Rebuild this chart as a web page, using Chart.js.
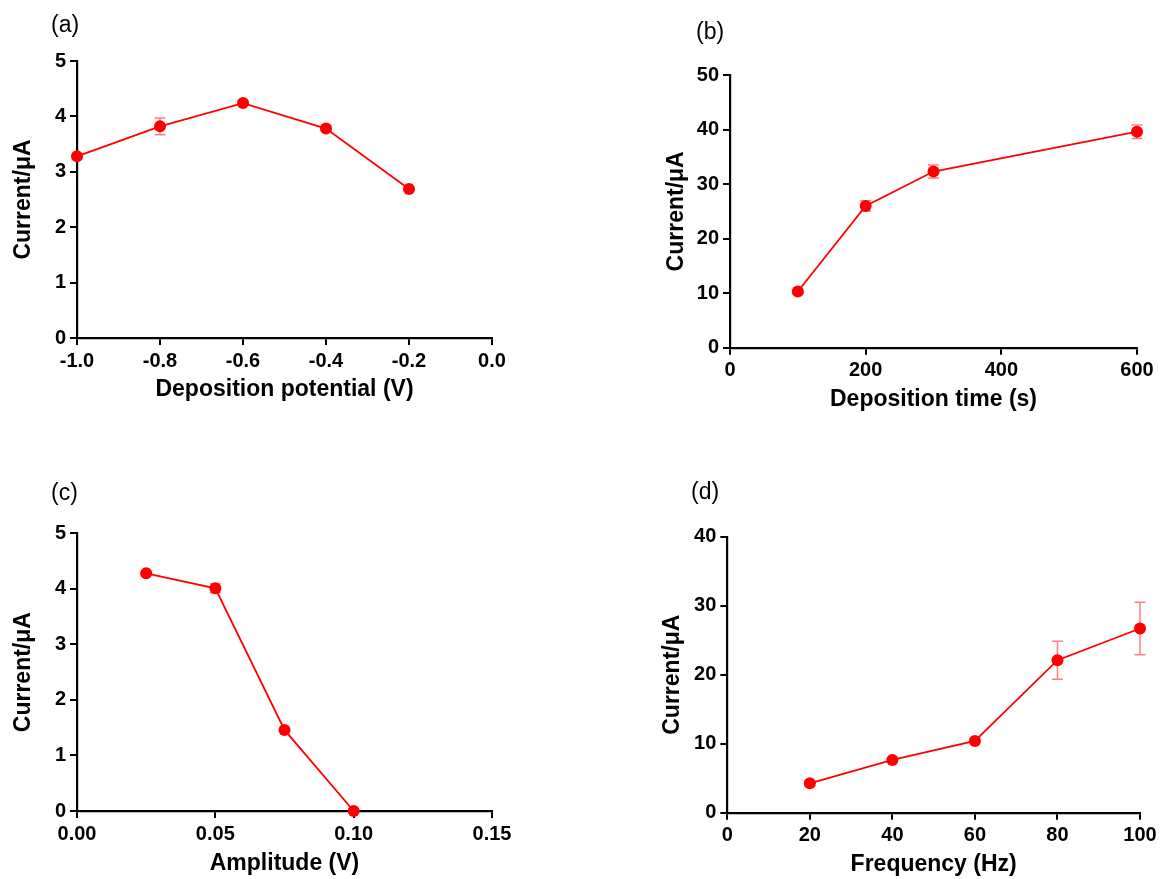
<!DOCTYPE html>
<html>
<head>
<meta charset="utf-8">
<script src="https://cdn.jsdelivr.net/npm/chart.js@4.4.0/dist/chart.umd.min.js"></script>
<style>
  html, body { margin: 0; padding: 0; background: #fff; }
  #page { position: relative; width: 1163px; height: 879px; overflow: hidden; }
  canvas { position: absolute; }
  .tag { position: absolute; font: 23px "Liberation Sans", Arial, sans-serif; line-height: 23px; color: #000; }
</style>
</head>
<body>
<div id="page">
  <canvas id="chartA"></canvas>
  <canvas id="chartB"></canvas>
  <canvas id="chartC"></canvas>
  <canvas id="chartD"></canvas>
  <div class="tag" style="left:51px; top:13px;">(a)</div>
  <div class="tag" style="left:696px; top:20px;">(b)</div>
  <div class="tag" style="left:51px; top:481px;">(c)</div>
  <div class="tag" style="left:691px; top:480px;">(d)</div>
</div>
<script>
// (a) deposition potential
const potentialV = [-1.0, -0.8, -0.6, -0.4, -0.2];
const potentialCurrent = [3.28, 3.82, 4.24, 3.78, 2.69];
const potentialErr = [0.03, 0.15, 0.04, 0.04, 0.03];
const potentialXTicks = [-1.0, -0.8, -0.6, -0.4, -0.2, 0.0];
const potentialXLabels = ['-1.0', '-0.8', '-0.6', '-0.4', '-0.2', '0.0'];
const potentialYTicks = [0, 1, 2, 3, 4, 5];
const potentialYLabels = ['0', '1', '2', '3', '4', '5'];

// (b) deposition time
const timeS = [100, 200, 300, 600];
const timeCurrent = [10.3, 26.0, 32.3, 39.6];
const timeErr = [0.4, 0.95, 1.2, 1.25];
const timeXTicks = [0, 200, 400, 600];
const timeXLabels = ['0', '200', '400', '600'];
const timeYTicks = [0, 10, 20, 30, 40, 50];
const timeYLabels = ['0', '10', '20', '30', '40', '50'];

// (c) amplitude
const amplitudeV = [0.025, 0.05, 0.075, 0.10];
const amplitudeCurrent = [4.28, 4.01, 1.46, 0.0];
const amplitudeErr = [0.02, 0.08, 0.04, 0.02];
const amplitudeXTicks = [0, 0.05, 0.10, 0.15];
const amplitudeXLabels = ['0.00', '0.05', '0.10', '0.15'];
const amplitudeYTicks = [0, 1, 2, 3, 4, 5];
const amplitudeYLabels = ['0', '1', '2', '3', '4', '5'];

// (d) frequency
const freqHz = [20, 40, 60, 80, 100];
const freqCurrent = [4.26, 7.64, 10.4, 22.1, 26.7];
const freqErr = [0.3, 0.35, 0.4, 2.75, 3.8];
const freqXTicks = [0, 20, 40, 60, 80, 100];
const freqXLabels = ['0', '20', '40', '60', '80', '100'];
const freqYTicks = [0, 10, 20, 30, 40];
const freqYLabels = ['0', '10', '20', '30', '40'];

const FONT = '"Liberation Sans", Arial, sans-serif';
const TITLE_SIZE = 23;
const TICK_SIZE = 20;
const HALF_TITLE = TITLE_SIZE * 1.2 / 2;

// draws the vertical error bars with caps, under the markers
const errorBars = {
    id: 'errorBars',
    beforeDatasetsDraw(chart, args, opts) {
        const ctx = chart.ctx;
        const xs = chart.scales.x, ys = chart.scales.y;
        const pts = chart.data.datasets[0].data;
        ctx.save();
        ctx.strokeStyle = 'rgba(255, 0, 0, 0.5)';
        ctx.lineWidth = 1.5;
        pts.forEach((p, i) => {
            const e = opts.values[i];
            if (!e) return;
            const px = xs.getPixelForValue(p.x);
            const top = ys.getPixelForValue(p.y + e);
            const bot = ys.getPixelForValue(p.y - e);
            ctx.beginPath();
            ctx.moveTo(px, top); ctx.lineTo(px, bot);
            ctx.moveTo(px - 5.5, top); ctx.lineTo(px + 5.5, top);
            ctx.moveTo(px - 5.5, bot); ctx.lineTo(px + 5.5, bot);
            ctx.stroke();
        });
        ctx.restore();
    }
};

function axisStyle(tickValues, tickLabels, min, max) {
    return {
        type: 'linear',
        min: min,
        max: max,
        afterBuildTicks: s => { s.ticks = tickValues.map(v => ({ value: v })); },
        ticks: {
            autoSkip: false,
            maxRotation: 0,
            padding: 4,
            color: '#000',
            font: { family: FONT, size: TICK_SIZE, weight: 'bold' },
            callback: (v, i) => tickLabels[i]
        },
        grid: {
            display: true,
            drawOnChartArea: false,
            drawTicks: true,
            tickLength: 7,
            color: '#000',
            lineWidth: 2
        },
        border: { display: true, color: '#000', width: 2.2 }
    };
}

// p.box = canvas rect on page, p.area = wanted plot area on page
function makePanel(id, p) {
    const canvas = document.getElementById(id);
    canvas.width = p.box.w;
    canvas.height = p.box.h;
    canvas.style.left = p.box.x + 'px';
    canvas.style.top = p.box.y + 'px';

    const padLeft = p.yTitleX - p.box.x - HALF_TITLE;
    const yWidth = p.area.left - p.box.x - padLeft;
    const xHeight = p.xTitleY + HALF_TITLE - p.area.bottom;
    const padBottom = p.box.y + p.box.h - p.area.bottom - xHeight;

    const xAxis = axisStyle(p.xTicks, p.xLabels, p.xTicks[0], p.xTicks[p.xTicks.length - 1]);
    xAxis.afterFit = s => { s.height = xHeight; };
    xAxis.title = { display: true, text: p.xTitle, color: '#000', padding: 0,
        font: { family: FONT, size: TITLE_SIZE, weight: 'bold' } };

    const yAxis = axisStyle(p.yTicks, p.yLabels, p.yTicks[0], p.yTicks[p.yTicks.length - 1]);
    yAxis.afterFit = s => { s.width = yWidth; };
    yAxis.title = { display: true, text: 'Current/μA', color: '#000', padding: 0,
        font: { family: FONT, size: TITLE_SIZE, weight: 'bold' } };

    new Chart(canvas.getContext('2d'), {
        type: 'line',
        data: {
            datasets: [{
                data: p.xs.map((x, i) => ({ x: x, y: p.ys[i] })),
                borderColor: '#ff0000',
                borderWidth: 1.8,
                backgroundColor: '#ff0000',
                pointRadius: 6,
                pointBorderWidth: 0,
                pointBackgroundColor: '#ff0000',
                tension: 0,
                clip: false
            }]
        },
        options: {
            responsive: false,
            animation: false,
            devicePixelRatio: 1,
            layout: {
                padding: {
                    left: padLeft,
                    top: p.area.top - p.box.y,
                    right: p.box.x + p.box.w - p.area.right,
                    bottom: padBottom
                }
            },
            plugins: {
                legend: { display: false },
                tooltip: { enabled: false },
                errorBars: { values: p.errs }
            },
            scales: { x: xAxis, y: yAxis }
        },
        plugins: [errorBars]
    });
}

makePanel('chartA', {
    box: { x: 0, y: 0, w: 560, h: 420 },
    area: { left: 77, top: 61, right: 492, bottom: 338 },
    yTitleX: 24, xTitleY: 390,
    xs: potentialV, ys: potentialCurrent, errs: potentialErr,
    xTicks: potentialXTicks, xLabels: potentialXLabels,
    yTicks: potentialYTicks, yLabels: potentialYLabels,
    xTitle: 'Deposition potential (V)'
});

makePanel('chartB', {
    box: { x: 600, y: 0, w: 563, h: 430 },
    area: { left: 730, top: 75, right: 1137, bottom: 347.7 },
    yTitleX: 677, xTitleY: 400,
    xs: timeS, ys: timeCurrent, errs: timeErr,
    xTicks: timeXTicks, xLabels: timeXLabels,
    yTicks: timeYTicks, yLabels: timeYLabels,
    xTitle: 'Deposition time (s)'
});

makePanel('chartC', {
    box: { x: 0, y: 440, w: 560, h: 439 },
    area: { left: 77, top: 533.3, right: 492, bottom: 811 },
    yTitleX: 24, xTitleY: 864,
    xs: amplitudeV, ys: amplitudeCurrent, errs: amplitudeErr,
    xTicks: amplitudeXTicks, xLabels: amplitudeXLabels,
    yTicks: amplitudeYTicks, yLabels: amplitudeYLabels,
    xTitle: 'Amplitude (V)'
});

makePanel('chartD', {
    box: { x: 600, y: 440, w: 563, h: 439 },
    area: { left: 727.3, top: 536.7, right: 1140, bottom: 812.7 },
    yTitleX: 673, xTitleY: 865,
    xs: freqHz, ys: freqCurrent, errs: freqErr,
    xTicks: freqXTicks, xLabels: freqXLabels,
    yTicks: freqYTicks, yLabels: freqYLabels,
    xTitle: 'Frequency (Hz)'
});
</script>
</body>
</html>
